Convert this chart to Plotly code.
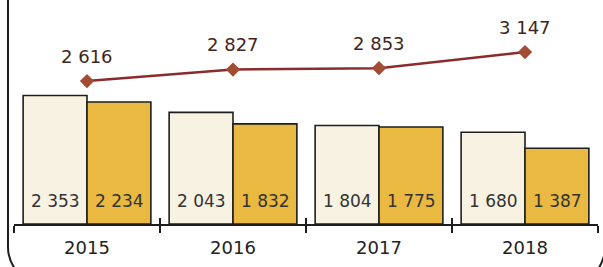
import plotly.graph_objects as go

years = ["2015", "2016", "2017", "2018"]
series_a = [2353, 2043, 1804, 1680]
series_b = [2234, 1832, 1775, 1387]
line_vals = [2616, 2827, 2853, 3147]

def fmt(v):
    return f"{v:,}".replace(",", " ")

FONT = "DejaVu Sans"
W, H = 603, 267
ML, MR, MT, MB = 14, 5, 0, 43
PW, PH = W - ML - MR, H - MT - MB
BAR_HALF = 32  # half a bar's width in px, for centring labels in the bars

fig = go.Figure()
fig.add_trace(go.Bar(
    x=years, y=series_a,
    marker=dict(color="#f8f2e2", line=dict(color="#1e1e1e", width=1.6)),
    showlegend=False,
))
fig.add_trace(go.Bar(
    x=years, y=series_b,
    marker=dict(color="#e9b941", line=dict(color="#1e1e1e", width=1.6)),
    showlegend=False,
))
fig.add_trace(go.Scatter(
    x=years, y=line_vals, mode="lines+markers",
    line=dict(color="#8a2c2c", width=2.5),
    marker=dict(symbol="diamond", size=11, color="#a44b33"),
    showlegend=False, cliponaxis=False,
))
# invisible trace on an overlay axis that carries the upward tick marks
fig.add_trace(go.Scatter(x=years, y=line_vals, xaxis="x2", yaxis="y",
                         mode="markers", marker=dict(opacity=0),
                         showlegend=False, hoverinfo="skip"))

for i, v in enumerate(line_vals):
    fig.add_annotation(x=i, y=v, xref="x", yref="y", text=fmt(v),
                       showarrow=False, yshift=25,
                       font=dict(family=FONT, size=18, color="#3e2620"))
for vals, sh in ((series_a, -BAR_HALF), (series_b, BAR_HALF)):
    for i, v in enumerate(vals):
        fig.add_annotation(x=i, y=0, xref="x", yref="y", text=fmt(v),
                           showarrow=False, yshift=23, xshift=sh,
                           font=dict(family=FONT, size=17, color="#333333"))

def px(x, y):
    return (x - ML) / PW, (PH + MT - y) / PH

def path(cmds):
    out = []
    for cmd, pts in cmds:
        coords = " ".join("%.4f,%.4f" % px(*p) for p in pts)
        out.append(f"{cmd} {coords}")
    return " ".join(out)

left = path([("M", [(8, -5)]), ("L", [(8, 247)]), ("Q", [(8, 263), (21, 276)])])
right = path([("M", [(607, 236)]), ("Q", [(606, 262), (593, 276)])])
for p in (left, right):
    fig.add_shape(type="path", path=p, xref="paper", yref="paper",
                  line=dict(color="#1e1e1e", width=2))

fig.update_layout(
    width=W, height=H, margin=dict(l=ML, r=MR, t=MT, b=MB),
    paper_bgcolor="white", plot_bgcolor="white",
    barmode="group", bargap=0.125, bargroupgap=0,
    xaxis=dict(type="category", categoryarray=years, range=[-0.5, 3.5],
               showline=True, linecolor="#1e1e1e", linewidth=1.6,
               ticks="outside", tickson="boundaries", ticklen=7, tickwidth=1.5,
               tickcolor="#1e1e1e", ticklabelstandoff=7,
               tickfont=dict(family=FONT, size=18, color="#222222"),
               showgrid=False, zeroline=False),
    xaxis2=dict(type="category", categoryarray=years, range=[-0.5, 3.5],
                overlaying="x", anchor="y", side="bottom",
                ticks="inside", tickson="boundaries",
                ticklen=6, tickwidth=1.5, tickcolor="#1e1e1e",
                showticklabels=False, showgrid=False, showline=False,
                zeroline=False),
    yaxis=dict(range=[0, 4100], visible=False, showgrid=False, zeroline=False),
)

fig.write_html("out.html", config={"displayModeBar": False},
               post_script="document.body.style.margin='0px';document.body.style.overflow='hidden';")
